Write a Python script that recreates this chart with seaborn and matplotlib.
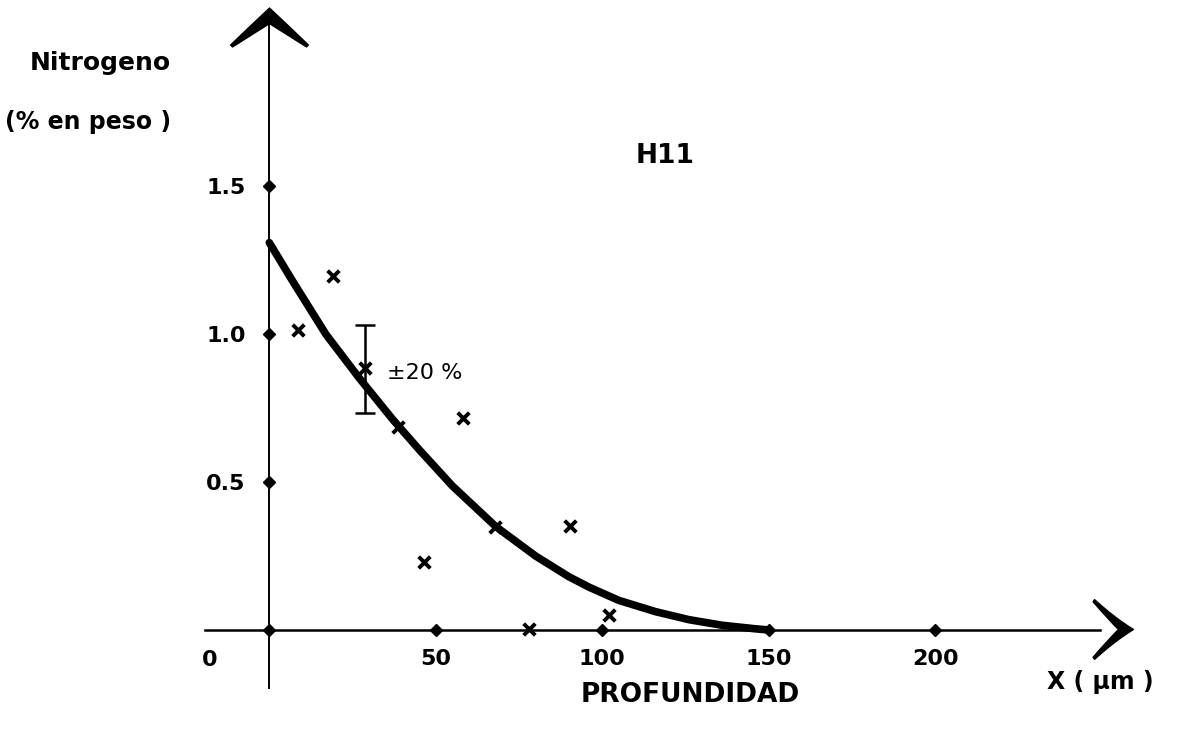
import numpy as np
import pandas as pd
import matplotlib
matplotlib.use("Agg")
import matplotlib.pyplot as plt
import seaborn as sns
from matplotlib.path import Path

# ---- data ----
depth_um = [8.7, 19.0, 28.7, 38.7, 46.6, 58.1, 67.9, 78.1, 90.3, 101.9]
nitrogen_pct = [1.015, 1.197, 0.885, 0.688, 0.231, 0.716, 0.349, 0.002, 0.353, 0.051]

fit_depth = [0, 7, 17, 27, 37, 45, 55, 68, 80, 90, 96, 105, 116, 126, 136, 146, 150]
fit_nitrogen = [1.31, 1.18, 1.0, 0.852, 0.713, 0.61, 0.487, 0.35, 0.25, 0.18, 0.145,
                0.10, 0.062, 0.035, 0.016, 0.004, 0.0]

err_depth = [28.7]
err_center = [0.883]
err_half = [0.148]

x_ticks = [50, 100, 150, 200]
x_tick_labels = ["50", "100", "150", "200"]
y_ticks = [0.5, 1.0, 1.5]
y_tick_labels = ["0.5", "1.0", "1.5"]

sns.set_theme(style="white")
plt.rcParams['font.family'] = ['DejaVu Sans']

W, H = 1186, 735
fig = plt.figure(figsize=(W / 100, H / 100), dpi=100)
fig.patch.set_facecolor("white")
ax = fig.add_axes([0, 0, 1, 1])
ax.set_facecolor("white")

# pixel mapping: x_pix = 269.3 + 3.33*x ; y_pix = 630 - 295.7*y
sx, x0p = 3.33, 269.3
sy, y0p = 295.7, 630.0
ax.set_xlim(-x0p / sx, (W - x0p) / sx)
ax.set_ylim(-(H - y0p) / sy, y0p / sy)

def fx(px):
    return (px - x0p) / sx

def fy(py):
    return (y0p - py) / sy

# axes spines through the origin
for s in ["top", "right"]:
    ax.spines[s].set_visible(False)
ax.spines["left"].set_position(("data", 0))
ax.spines["bottom"].set_position(("data", 0))
ax.spines["left"].set_bounds(fy(688), fy(18))
ax.spines["bottom"].set_bounds(fx(205), fx(1100))
ax.spines["left"].set_linewidth(1.4)
ax.spines["bottom"].set_linewidth(1.8)
ax.spines["left"].set_color("black")
ax.spines["bottom"].set_color("black")

ax.set_xticks(x_ticks)
ax.set_xticklabels(x_tick_labels)
ax.set_yticks(y_ticks)
ax.set_yticklabels(y_tick_labels)
ax.tick_params(axis="x", length=0, pad=14, labelsize=16, colors="black")
ax.tick_params(axis="y", length=0, pad=17, labelsize=16, colors="black")
for lab in ax.get_xticklabels() + ax.get_yticklabels():
    lab.set_fontweight("bold")

# tick diamonds on the axes
ax.plot([0] + x_ticks, [0] * (len(x_ticks) + 1), linestyle="none", marker="D",
        markersize=6, color="black", clip_on=False)
ax.plot([0] * len(y_ticks), y_ticks, linestyle="none", marker="D",
        markersize=6, color="black", clip_on=False)

ax.text(fx(210), fy(660), "0", ha="center", va="center", fontsize=16,
        fontweight="bold", color="black")

# chevron arrowheads
up_verts = [(0, 0.5), (-0.45, 0.08), (-1, -0.45), (-0.95, -0.5),
            (-0.4, -0.15), (0, 0.1), (0.4, -0.15), (0.95, -0.5),
            (1, -0.45), (0.45, 0.08), (0, 0.5), (0, 0.5)]
codes = [Path.MOVETO, Path.CURVE3, Path.CURVE3, Path.LINETO,
         Path.CURVE3, Path.CURVE3, Path.CURVE3, Path.CURVE3,
         Path.LINETO, Path.CURVE3, Path.CURVE3, Path.CLOSEPOLY]
up_path = Path(up_verts, codes)
right_verts = [(0.7, 0), (0.05, -0.4), (-0.6, -1), (-0.65, -0.93),
               (-0.15, -0.35), (0.2, 0), (-0.15, 0.35), (-0.65, 0.93),
               (-0.6, 1), (0.05, 0.4), (0.7, 0), (0.7, 0)]
right_path = Path(right_verts, codes)
ax.plot([0], [fy(26.5)], marker=up_path, markersize=56, color="black",
        linestyle="none", clip_on=False)
ax.plot([fx(1112)], [fy(629)], marker=right_path, markersize=43, color="black",
        linestyle="none", clip_on=False)

# fitted curve
fit_df = pd.DataFrame({"depth": fit_depth, "nitrogen": fit_nitrogen})
sns.lineplot(data=fit_df, x="depth", y="nitrogen", ax=ax, color="black",
             linewidth=5.5, solid_capstyle="round", solid_joinstyle="round",
             estimator=None)

# measured points
pts_df = pd.DataFrame({"depth": depth_um, "nitrogen": nitrogen_pct})
sns.scatterplot(data=pts_df, x="depth", y="nitrogen", ax=ax, marker="x",
                s=70, color="black", linewidth=2.8, zorder=5)

# error bar
ax.errorbar(err_depth, err_center, yerr=err_half, fmt="none", ecolor="black",
            elinewidth=1.8, capsize=7, capthick=1.8)
ax.text(fx(387), fy(373), "±20 %", ha="left", va="center", fontsize=16,
        color="black")

ax.set_xlabel("")
ax.set_ylabel("")

# titles / labels
ax.text(fx(30), fy(63), "Nitrogeno", ha="left", va="center", fontsize=18,
        fontweight="bold", color="black")
ax.text(fx(5), fy(122), "(% en peso )", ha="left", va="center", fontsize=17,
        fontweight="bold", color="black")
ax.text(fx(665), fy(156), "H11", ha="center", va="center", fontsize=19,
        fontweight="bold", color="black")
ax.text(fx(690), fy(695), "PROFUNDIDAD", ha="center", va="center", fontsize=19,
        fontweight="bold", color="black")
ax.text(fx(1100), fy(682), "X ( µm )", ha="center", va="center", fontsize=17,
        fontweight="bold", color="black")

fig.savefig("out.png", dpi=100, facecolor="white")
